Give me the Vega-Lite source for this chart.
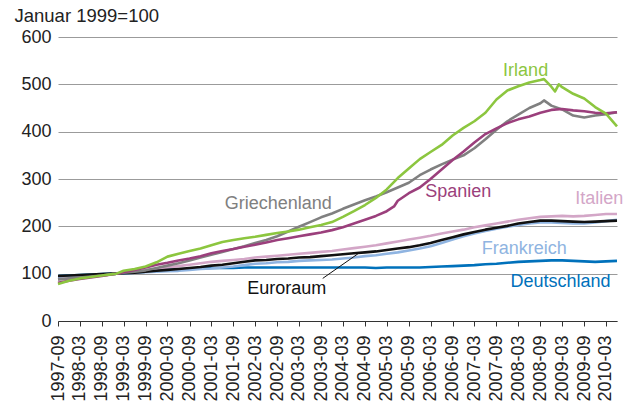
{
"$schema":"https://vega.github.io/schema/vega-lite/v6.json",
"width":559,"height":284,
"autosize":{"type":"none"},
"padding":{"left":58,"top":37,"right":16,"bottom":84},
"background":"white",
"config":{"view":{"stroke":null},"font":"Liberation Sans","text":{"font":"Liberation Sans"},"axis":{"labelOverlap":false}},
"datasets":{
"series":[
{"s":"Deutschland","d":"1997-09","v":95},{"s":"Deutschland","d":"1997-12","v":96},{"s":"Deutschland","d":"1998-03","v":97},{"s":"Deutschland","d":"1998-06","v":98},{"s":"Deutschland","d":"1998-09","v":99},{"s":"Deutschland","d":"1998-12","v":100},{"s":"Deutschland","d":"1999-01","v":100},{"s":"Deutschland","d":"1999-03","v":101},{"s":"Deutschland","d":"1999-06","v":102},{"s":"Deutschland","d":"1999-09","v":104},{"s":"Deutschland","d":"1999-12","v":106},{"s":"Deutschland","d":"2000-03","v":108},{"s":"Deutschland","d":"2000-06","v":109},{"s":"Deutschland","d":"2000-09","v":110},{"s":"Deutschland","d":"2000-12","v":111},{"s":"Deutschland","d":"2001-03","v":112},{"s":"Deutschland","d":"2001-06","v":112},{"s":"Deutschland","d":"2001-09","v":112},{"s":"Deutschland","d":"2001-12","v":113},{"s":"Deutschland","d":"2002-03","v":113},{"s":"Deutschland","d":"2002-06","v":113},{"s":"Deutschland","d":"2002-09","v":113},{"s":"Deutschland","d":"2002-12","v":113},{"s":"Deutschland","d":"2003-03","v":113},{"s":"Deutschland","d":"2003-06","v":113},{"s":"Deutschland","d":"2003-09","v":113},{"s":"Deutschland","d":"2003-12","v":113},{"s":"Deutschland","d":"2004-03","v":113},{"s":"Deutschland","d":"2004-06","v":113},{"s":"Deutschland","d":"2004-09","v":113},{"s":"Deutschland","d":"2004-12","v":112},{"s":"Deutschland","d":"2005-03","v":113},{"s":"Deutschland","d":"2005-06","v":113},{"s":"Deutschland","d":"2005-09","v":113},{"s":"Deutschland","d":"2005-12","v":113},{"s":"Deutschland","d":"2006-03","v":114},{"s":"Deutschland","d":"2006-06","v":115},{"s":"Deutschland","d":"2006-09","v":116},{"s":"Deutschland","d":"2006-12","v":117},{"s":"Deutschland","d":"2007-03","v":118},{"s":"Deutschland","d":"2007-06","v":120},{"s":"Deutschland","d":"2007-09","v":121},{"s":"Deutschland","d":"2007-12","v":123},{"s":"Deutschland","d":"2008-03","v":125},{"s":"Deutschland","d":"2008-06","v":126},{"s":"Deutschland","d":"2008-09","v":127},{"s":"Deutschland","d":"2008-12","v":128},{"s":"Deutschland","d":"2009-03","v":128},{"s":"Deutschland","d":"2009-06","v":127},{"s":"Deutschland","d":"2009-09","v":126},{"s":"Deutschland","d":"2009-12","v":125},{"s":"Deutschland","d":"2010-03","v":126},{"s":"Deutschland","d":"2010-06","v":127},
{"s":"Frankreich","d":"1997-09","v":93},{"s":"Frankreich","d":"1997-12","v":95},{"s":"Frankreich","d":"1998-03","v":96},{"s":"Frankreich","d":"1998-06","v":97},{"s":"Frankreich","d":"1998-09","v":98},{"s":"Frankreich","d":"1998-12","v":99},{"s":"Frankreich","d":"1999-01","v":100},{"s":"Frankreich","d":"1999-03","v":101},{"s":"Frankreich","d":"1999-06","v":102},{"s":"Frankreich","d":"1999-09","v":103},{"s":"Frankreich","d":"1999-12","v":104},{"s":"Frankreich","d":"2000-03","v":105},{"s":"Frankreich","d":"2000-06","v":106},{"s":"Frankreich","d":"2000-09","v":108},{"s":"Frankreich","d":"2000-12","v":110},{"s":"Frankreich","d":"2001-03","v":111},{"s":"Frankreich","d":"2001-06","v":113},{"s":"Frankreich","d":"2001-09","v":115},{"s":"Frankreich","d":"2001-12","v":118},{"s":"Frankreich","d":"2002-03","v":121},{"s":"Frankreich","d":"2002-06","v":122},{"s":"Frankreich","d":"2002-09","v":124},{"s":"Frankreich","d":"2002-12","v":125},{"s":"Frankreich","d":"2003-03","v":127},{"s":"Frankreich","d":"2003-06","v":128},{"s":"Frankreich","d":"2003-09","v":129},{"s":"Frankreich","d":"2003-12","v":130},{"s":"Frankreich","d":"2004-03","v":132},{"s":"Frankreich","d":"2004-06","v":134},{"s":"Frankreich","d":"2004-09","v":137},{"s":"Frankreich","d":"2004-12","v":139},{"s":"Frankreich","d":"2005-03","v":142},{"s":"Frankreich","d":"2005-06","v":145},{"s":"Frankreich","d":"2005-09","v":149},{"s":"Frankreich","d":"2005-12","v":153},{"s":"Frankreich","d":"2006-03","v":158},{"s":"Frankreich","d":"2006-06","v":165},{"s":"Frankreich","d":"2006-09","v":172},{"s":"Frankreich","d":"2006-12","v":179},{"s":"Frankreich","d":"2007-03","v":185},{"s":"Frankreich","d":"2007-06","v":190},{"s":"Frankreich","d":"2007-09","v":195},{"s":"Frankreich","d":"2007-12","v":199},{"s":"Frankreich","d":"2008-03","v":203},{"s":"Frankreich","d":"2008-06","v":206},{"s":"Frankreich","d":"2008-09","v":208},{"s":"Frankreich","d":"2008-12","v":208},{"s":"Frankreich","d":"2009-03","v":207},{"s":"Frankreich","d":"2009-06","v":206},{"s":"Frankreich","d":"2009-09","v":206},{"s":"Frankreich","d":"2009-12","v":208},{"s":"Frankreich","d":"2010-03","v":211},{"s":"Frankreich","d":"2010-06","v":214},
{"s":"Italien","d":"1997-09","v":88},{"s":"Italien","d":"1997-12","v":90},{"s":"Italien","d":"1998-03","v":92},{"s":"Italien","d":"1998-06","v":94},{"s":"Italien","d":"1998-09","v":96},{"s":"Italien","d":"1998-12","v":99},{"s":"Italien","d":"1999-01","v":100},{"s":"Italien","d":"1999-03","v":102},{"s":"Italien","d":"1999-06","v":104},{"s":"Italien","d":"1999-09","v":107},{"s":"Italien","d":"1999-12","v":110},{"s":"Italien","d":"2000-03","v":113},{"s":"Italien","d":"2000-06","v":116},{"s":"Italien","d":"2000-09","v":119},{"s":"Italien","d":"2000-12","v":122},{"s":"Italien","d":"2001-03","v":125},{"s":"Italien","d":"2001-06","v":127},{"s":"Italien","d":"2001-09","v":129},{"s":"Italien","d":"2001-12","v":131},{"s":"Italien","d":"2002-03","v":134},{"s":"Italien","d":"2002-06","v":136},{"s":"Italien","d":"2002-09","v":138},{"s":"Italien","d":"2002-12","v":140},{"s":"Italien","d":"2003-03","v":142},{"s":"Italien","d":"2003-06","v":144},{"s":"Italien","d":"2003-09","v":146},{"s":"Italien","d":"2003-12","v":148},{"s":"Italien","d":"2004-03","v":151},{"s":"Italien","d":"2004-06","v":154},{"s":"Italien","d":"2004-09","v":157},{"s":"Italien","d":"2004-12","v":160},{"s":"Italien","d":"2005-03","v":164},{"s":"Italien","d":"2005-06","v":168},{"s":"Italien","d":"2005-09","v":172},{"s":"Italien","d":"2005-12","v":176},{"s":"Italien","d":"2006-03","v":180},{"s":"Italien","d":"2006-06","v":185},{"s":"Italien","d":"2006-09","v":189},{"s":"Italien","d":"2006-12","v":193},{"s":"Italien","d":"2007-03","v":198},{"s":"Italien","d":"2007-06","v":202},{"s":"Italien","d":"2007-09","v":206},{"s":"Italien","d":"2007-12","v":210},{"s":"Italien","d":"2008-03","v":214},{"s":"Italien","d":"2008-06","v":217},{"s":"Italien","d":"2008-09","v":220},{"s":"Italien","d":"2008-12","v":221},{"s":"Italien","d":"2009-03","v":222},{"s":"Italien","d":"2009-06","v":221},{"s":"Italien","d":"2009-09","v":222},{"s":"Italien","d":"2009-12","v":224},{"s":"Italien","d":"2010-03","v":226},{"s":"Italien","d":"2010-06","v":226},
{"s":"Euroraum","d":"1997-09","v":95},{"s":"Euroraum","d":"1997-12","v":96},{"s":"Euroraum","d":"1998-03","v":97},{"s":"Euroraum","d":"1998-06","v":98},{"s":"Euroraum","d":"1998-09","v":99},{"s":"Euroraum","d":"1998-12","v":100},{"s":"Euroraum","d":"1999-01","v":100},{"s":"Euroraum","d":"1999-03","v":101},{"s":"Euroraum","d":"1999-06","v":102},{"s":"Euroraum","d":"1999-09","v":104},{"s":"Euroraum","d":"1999-12","v":106},{"s":"Euroraum","d":"2000-03","v":108},{"s":"Euroraum","d":"2000-06","v":110},{"s":"Euroraum","d":"2000-09","v":112},{"s":"Euroraum","d":"2000-12","v":114},{"s":"Euroraum","d":"2001-03","v":117},{"s":"Euroraum","d":"2001-06","v":119},{"s":"Euroraum","d":"2001-09","v":122},{"s":"Euroraum","d":"2001-12","v":125},{"s":"Euroraum","d":"2002-03","v":128},{"s":"Euroraum","d":"2002-06","v":129},{"s":"Euroraum","d":"2002-09","v":131},{"s":"Euroraum","d":"2002-12","v":132},{"s":"Euroraum","d":"2003-03","v":134},{"s":"Euroraum","d":"2003-06","v":135},{"s":"Euroraum","d":"2003-09","v":137},{"s":"Euroraum","d":"2003-12","v":139},{"s":"Euroraum","d":"2004-03","v":141},{"s":"Euroraum","d":"2004-06","v":143},{"s":"Euroraum","d":"2004-09","v":145},{"s":"Euroraum","d":"2004-12","v":147},{"s":"Euroraum","d":"2005-03","v":150},{"s":"Euroraum","d":"2005-06","v":153},{"s":"Euroraum","d":"2005-09","v":156},{"s":"Euroraum","d":"2005-12","v":160},{"s":"Euroraum","d":"2006-03","v":165},{"s":"Euroraum","d":"2006-06","v":171},{"s":"Euroraum","d":"2006-09","v":177},{"s":"Euroraum","d":"2006-12","v":183},{"s":"Euroraum","d":"2007-03","v":188},{"s":"Euroraum","d":"2007-06","v":193},{"s":"Euroraum","d":"2007-09","v":197},{"s":"Euroraum","d":"2007-12","v":201},{"s":"Euroraum","d":"2008-03","v":206},{"s":"Euroraum","d":"2008-06","v":209},{"s":"Euroraum","d":"2008-09","v":212},{"s":"Euroraum","d":"2008-12","v":212},{"s":"Euroraum","d":"2009-03","v":211},{"s":"Euroraum","d":"2009-06","v":210},{"s":"Euroraum","d":"2009-09","v":209},{"s":"Euroraum","d":"2009-12","v":210},{"s":"Euroraum","d":"2010-03","v":211},{"s":"Euroraum","d":"2010-06","v":212},
{"s":"Griechenland","d":"1997-09","v":88},{"s":"Griechenland","d":"1997-12","v":90},{"s":"Griechenland","d":"1998-03","v":92},{"s":"Griechenland","d":"1998-06","v":94},{"s":"Griechenland","d":"1998-09","v":96},{"s":"Griechenland","d":"1998-12","v":99},{"s":"Griechenland","d":"1999-01","v":100},{"s":"Griechenland","d":"1999-03","v":102},{"s":"Griechenland","d":"1999-06","v":104},{"s":"Griechenland","d":"1999-09","v":107},{"s":"Griechenland","d":"1999-12","v":112},{"s":"Griechenland","d":"2000-03","v":117},{"s":"Griechenland","d":"2000-06","v":122},{"s":"Griechenland","d":"2000-09","v":128},{"s":"Griechenland","d":"2000-12","v":134},{"s":"Griechenland","d":"2001-03","v":140},{"s":"Griechenland","d":"2001-06","v":146},{"s":"Griechenland","d":"2001-09","v":152},{"s":"Griechenland","d":"2001-12","v":158},{"s":"Griechenland","d":"2002-03","v":165},{"s":"Griechenland","d":"2002-06","v":171},{"s":"Griechenland","d":"2002-09","v":179},{"s":"Griechenland","d":"2002-12","v":189},{"s":"Griechenland","d":"2003-03","v":199},{"s":"Griechenland","d":"2003-06","v":209},{"s":"Griechenland","d":"2003-09","v":219},{"s":"Griechenland","d":"2003-12","v":227},{"s":"Griechenland","d":"2004-03","v":237},{"s":"Griechenland","d":"2004-06","v":246},{"s":"Griechenland","d":"2004-09","v":255},{"s":"Griechenland","d":"2004-12","v":263},{"s":"Griechenland","d":"2005-03","v":272},{"s":"Griechenland","d":"2005-06","v":282},{"s":"Griechenland","d":"2005-09","v":292},{"s":"Griechenland","d":"2005-12","v":308},{"s":"Griechenland","d":"2006-03","v":320},{"s":"Griechenland","d":"2006-06","v":331},{"s":"Griechenland","d":"2006-09","v":341},{"s":"Griechenland","d":"2006-12","v":350},{"s":"Griechenland","d":"2007-03","v":365},{"s":"Griechenland","d":"2007-06","v":384},{"s":"Griechenland","d":"2007-09","v":404},{"s":"Griechenland","d":"2007-12","v":422},{"s":"Griechenland","d":"2008-03","v":436},{"s":"Griechenland","d":"2008-06","v":450},{"s":"Griechenland","d":"2008-09","v":460},{"s":"Griechenland","d":"2008-10","v":466},{"s":"Griechenland","d":"2008-12","v":455},{"s":"Griechenland","d":"2009-03","v":447},{"s":"Griechenland","d":"2009-06","v":434},{"s":"Griechenland","d":"2009-09","v":430},{"s":"Griechenland","d":"2009-12","v":434},{"s":"Griechenland","d":"2010-03","v":437},{"s":"Griechenland","d":"2010-06","v":441},
{"s":"Spanien","d":"1997-09","v":81},{"s":"Spanien","d":"1997-12","v":85},{"s":"Spanien","d":"1998-03","v":89},{"s":"Spanien","d":"1998-06","v":92},{"s":"Spanien","d":"1998-09","v":95},{"s":"Spanien","d":"1998-12","v":99},{"s":"Spanien","d":"1999-01","v":100},{"s":"Spanien","d":"1999-03","v":103},{"s":"Spanien","d":"1999-06","v":108},{"s":"Spanien","d":"1999-09","v":113},{"s":"Spanien","d":"1999-12","v":119},{"s":"Spanien","d":"2000-03","v":123},{"s":"Spanien","d":"2000-06","v":128},{"s":"Spanien","d":"2000-09","v":132},{"s":"Spanien","d":"2000-12","v":137},{"s":"Spanien","d":"2001-03","v":143},{"s":"Spanien","d":"2001-06","v":148},{"s":"Spanien","d":"2001-09","v":152},{"s":"Spanien","d":"2001-12","v":157},{"s":"Spanien","d":"2002-03","v":161},{"s":"Spanien","d":"2002-06","v":166},{"s":"Spanien","d":"2002-09","v":171},{"s":"Spanien","d":"2002-12","v":175},{"s":"Spanien","d":"2003-03","v":179},{"s":"Spanien","d":"2003-06","v":183},{"s":"Spanien","d":"2003-09","v":187},{"s":"Spanien","d":"2003-12","v":192},{"s":"Spanien","d":"2004-03","v":198},{"s":"Spanien","d":"2004-06","v":206},{"s":"Spanien","d":"2004-09","v":214},{"s":"Spanien","d":"2004-12","v":222},{"s":"Spanien","d":"2005-03","v":232},{"s":"Spanien","d":"2005-05","v":242},{"s":"Spanien","d":"2005-06","v":254},{"s":"Spanien","d":"2005-09","v":270},{"s":"Spanien","d":"2005-12","v":282},{"s":"Spanien","d":"2006-03","v":300},{"s":"Spanien","d":"2006-06","v":320},{"s":"Spanien","d":"2006-09","v":340},{"s":"Spanien","d":"2006-12","v":358},{"s":"Spanien","d":"2007-03","v":377},{"s":"Spanien","d":"2007-06","v":395},{"s":"Spanien","d":"2007-09","v":407},{"s":"Spanien","d":"2007-12","v":418},{"s":"Spanien","d":"2008-03","v":426},{"s":"Spanien","d":"2008-06","v":432},{"s":"Spanien","d":"2008-09","v":440},{"s":"Spanien","d":"2008-12","v":446},{"s":"Spanien","d":"2009-03","v":448},{"s":"Spanien","d":"2009-06","v":445},{"s":"Spanien","d":"2009-09","v":443},{"s":"Spanien","d":"2009-12","v":440},{"s":"Spanien","d":"2010-03","v":439},{"s":"Spanien","d":"2010-06","v":441},
{"s":"Irland","d":"1997-09","v":78},{"s":"Irland","d":"1997-12","v":85},{"s":"Irland","d":"1998-03","v":90},{"s":"Irland","d":"1998-06","v":93},{"s":"Irland","d":"1998-09","v":96},{"s":"Irland","d":"1998-12","v":99},{"s":"Irland","d":"1999-01","v":100},{"s":"Irland","d":"1999-03","v":106},{"s":"Irland","d":"1999-06","v":110},{"s":"Irland","d":"1999-09","v":115},{"s":"Irland","d":"1999-12","v":124},{"s":"Irland","d":"2000-03","v":136},{"s":"Irland","d":"2000-06","v":142},{"s":"Irland","d":"2000-09","v":148},{"s":"Irland","d":"2000-12","v":153},{"s":"Irland","d":"2001-03","v":160},{"s":"Irland","d":"2001-06","v":167},{"s":"Irland","d":"2001-09","v":171},{"s":"Irland","d":"2001-12","v":175},{"s":"Irland","d":"2002-03","v":178},{"s":"Irland","d":"2002-06","v":182},{"s":"Irland","d":"2002-09","v":186},{"s":"Irland","d":"2002-12","v":189},{"s":"Irland","d":"2003-03","v":193},{"s":"Irland","d":"2003-06","v":198},{"s":"Irland","d":"2003-09","v":203},{"s":"Irland","d":"2003-12","v":209},{"s":"Irland","d":"2004-03","v":220},{"s":"Irland","d":"2004-06","v":232},{"s":"Irland","d":"2004-09","v":245},{"s":"Irland","d":"2004-12","v":260},{"s":"Irland","d":"2005-03","v":278},{"s":"Irland","d":"2005-06","v":302},{"s":"Irland","d":"2005-09","v":322},{"s":"Irland","d":"2005-12","v":342},{"s":"Irland","d":"2006-03","v":357},{"s":"Irland","d":"2006-06","v":372},{"s":"Irland","d":"2006-09","v":392},{"s":"Irland","d":"2006-12","v":408},{"s":"Irland","d":"2007-03","v":422},{"s":"Irland","d":"2007-06","v":440},{"s":"Irland","d":"2007-09","v":468},{"s":"Irland","d":"2007-12","v":487},{"s":"Irland","d":"2008-03","v":496},{"s":"Irland","d":"2008-06","v":504},{"s":"Irland","d":"2008-09","v":509},{"s":"Irland","d":"2008-10","v":511},{"s":"Irland","d":"2008-11","v":503},{"s":"Irland","d":"2008-12","v":495},{"s":"Irland","d":"2009-01","v":485},{"s":"Irland","d":"2009-02","v":500},{"s":"Irland","d":"2009-03","v":494},{"s":"Irland","d":"2009-06","v":480},{"s":"Irland","d":"2009-09","v":470},{"s":"Irland","d":"2009-12","v":452},{"s":"Irland","d":"2010-03","v":438},{"s":"Irland","d":"2010-06","v":411}
],
"labels":[
{"s":"Irland","t":"Irland","d":"2008-05-01","v":518},
{"s":"Griechenland","t":"Griechenland","d":"2002-09-10","v":236},
{"s":"Spanien","t":"Spanien","d":"2006-10-18","v":261},
{"s":"Italien","t":"Italien","d":"2010-01-05","v":247},
{"s":"Frankreich","t":"Frankreich","d":"2008-04-20","v":141},
{"s":"Deutschland","t":"Deutschland","d":"2009-02-15","v":71},
{"s":"Euroraum","t":"Euroraum","d":"2002-11-20","v":58}
],
"leader":[
{"d":"2003-09-15","v":90,"d2":"2004-07-04","v2":142}
]
},
"encoding":{
"x":{"field":"d","type":"temporal",
"scale":{"type":"utc","domain":[873072000000,1275350400000]},
"axis":{"title":null,"format":"%Y-%m","labelAngle":-90,"labelFontSize":18,"labelColor":"#222222","labelPadding":9,"tickSize":5,"tickColor":"#333333","domainColor":"#333333","domainWidth":1.2,"grid":false,"labelOverlap":false,"labelSeparation":0,"labelFlush":false,"labelBound":false,
"values":[873072000000,888710400000,904608000000,920246400000,936144000000,951868800000,967766400000,983404800000,999302400000,1014940800000,1030838400000,1046476800000,1062374400000,1078099200000,1093996800000,1109635200000,1125532800000,1141171200000,1157068800000,1172707200000,1188604800000,1204329600000,1220227200000,1235865600000,1251763200000,1267401600000]}},
"y":{"field":"v","type":"quantitative","scale":{"domain":[0,600],"nice":false},
"axis":{"values":[0,100,200,300,400,500,600],"domain":false,"ticks":false,"grid":true,"gridColor":"#9b9b9b","gridWidth":1.2,"labelFontSize":18,"labelColor":"#222222","labelPadding":7,
"title":"Januar 1999=100","titleAngle":0,"titleAlign":"left","titleBaseline":"alphabetic","titleAnchor":"start","titleX":-44,"titleY":-16,"titleFontSize":18.5,"titleFontWeight":"normal","titleColor":"#222222"}}
},
"layer":[
{"data":{"name":"series"},
"mark":{"type":"line","strokeWidth":2.6,"strokeJoin":"round"},
"encoding":{
"color":{"field":"s","type":"nominal","legend":null,
"scale":{"domain":["Irland","Griechenland","Spanien","Italien","Frankreich","Euroraum","Deutschland"],"range":["#8cc63f","#808080","#9b3f7c","#d3a6c7","#8fb4e1","#111111","#0071bb"]}}
}},
{"data":{"name":"labels"},
"mark":{"type":"text","fontSize":18,"baseline":"alphabetic","align":"center","font":"Liberation Sans"},
"encoding":{
"text":{"field":"t"},
"color":{"field":"s","type":"nominal","legend":null}
}},
{"data":{"name":"leader"},
"mark":{"type":"rule","color":"#111111","strokeWidth":1},
"encoding":{
"x2":{"field":"d2"},
"y2":{"field":"v2"}
}}
]
}
